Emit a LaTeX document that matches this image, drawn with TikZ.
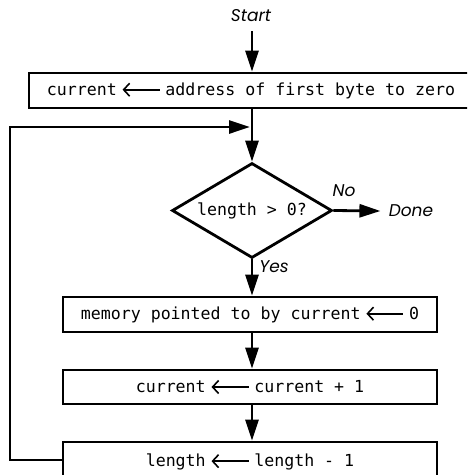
\documentclass[tikz,border=0pt]{standalone}
\usepackage{fontspec}
\setmonofont{DejaVu Sans Mono}
\newfontfamily\labfont{Poppins}
\usetikzlibrary{shapes.geometric,arrows.meta}
\newcommand\getsarrow{\hspace{0.3em}\tikz[baseline=-0.6ex]\draw[line width=1.6pt,{Straight Barb[length=6pt,width=13pt,line width=1.6pt]}-](0pt,0pt)--(37pt,0pt);\hspace{0.3em}}
\newcommand\codefont{\fontsize{16.6}{20}\selectfont\ttfamily}
\newcommand\italfont{\fontsize{17}{20}\selectfont\labfont\itshape}
\begin{document}
\begin{tikzpicture}[x=1pt,y=-1pt,
  line width=2.8pt,
  >={Triangle[length=21pt,width=13pt]},
  box/.style={draw, line width=2.8pt, inner sep=0pt, minimum height=35pt, font=\codefont},
  dia/.style={diamond, draw, line width=2.8pt, minimum width=160pt, minimum height=95pt, aspect=1.684, inner sep=0pt, font=\codefont},
  lab/.style={inner sep=1pt, font=\italfont}]
\useasboundingbox (0,0) rectangle (467,475);
\clip (0,0) rectangle (467,475);
\node[lab] (start) at (251,16) {Start};
\node[box, minimum width=470pt] (b1) at (264,90.5) {\hspace*{-26pt}current\getsarrow address of first byte to zero};
\node[dia] (d) at (252,210.5) {length > 0?};
\node[lab] (done) at (411,211) {Done};
\node[lab] (no) at (344,191) {No};
\node[lab] (yes) at (274,267) {Yes};
\node[box, minimum width=374pt] (b2) at (250,314.5) {memory pointed to by current\getsarrow 0};
\node[box, minimum width=374pt, minimum height=34pt] (b3) at (250,387) {current\getsarrow current + 1};
\node[box, minimum width=374pt, minimum height=40pt] (b4) at (250,462) {\raisebox{2pt}{length\getsarrow length - 1}};
\coordinate (lb) at (10,460);
\coordinate (lt) at (10,127);
\coordinate (j) at (250,127);
\draw[->] ([yshift=-7pt]start.south -| d.north) -- (b1.north -| d.north);
\draw[->] (b1.south -| d.north) -- (d.north);
\draw[->] (d.east) -- ([xshift=-6pt]done.west);
\draw[->] (d.south) -- (b2.north -| d.south);
\draw[->] (b2.south -| d.south) -- (b3.north -| d.south);
\draw[->] (b3.south -| d.south) -- (b4.north -| d.south);
\draw[->] (b4.west |- lb) -- (lb) -- (lt) -- (j);
\end{tikzpicture}
\end{document}
